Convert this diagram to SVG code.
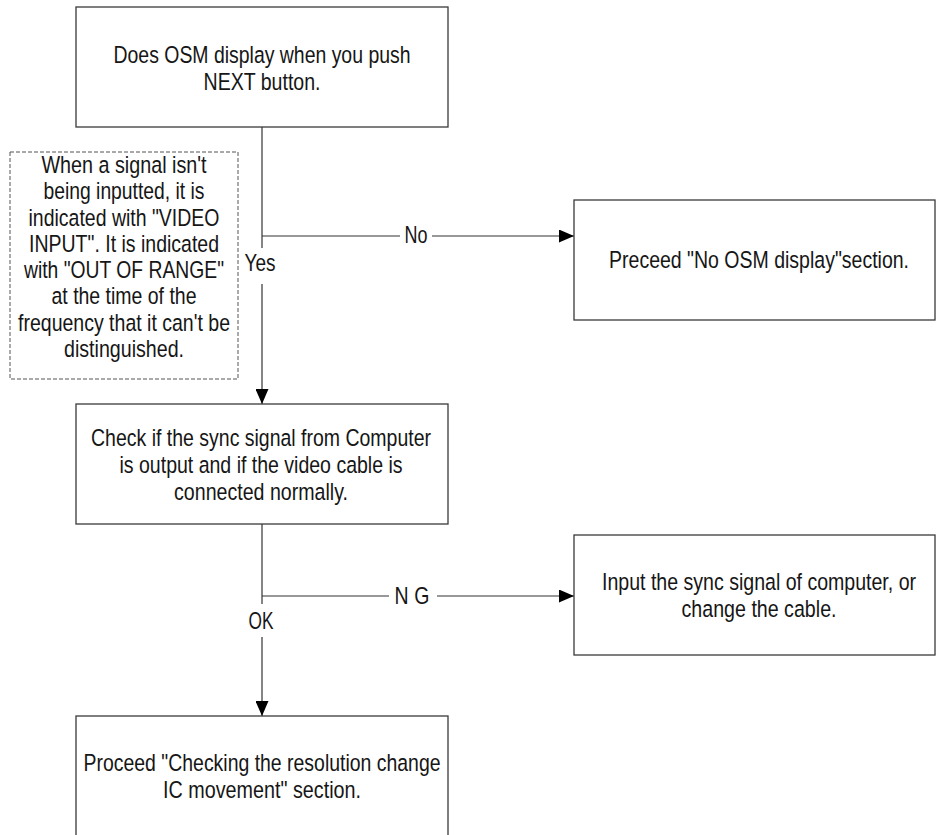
<svg xmlns="http://www.w3.org/2000/svg" width="936" height="835" viewBox="0 0 936 835">
  <style>
    .box{fill:#fff;stroke:#3a3a3a;stroke-width:1.3}
    .note{fill:#fff;stroke:#555;stroke-width:1;stroke-dasharray:4 2}
    .t{font-family:"Liberation Sans",Arial,sans-serif;font-size:23.5px;fill:#161616;text-anchor:middle}
    .wire{stroke:#333;stroke-width:1.2;fill:none}
  </style>
  <defs>
    <marker id="arrow" markerUnits="userSpaceOnUse" viewBox="0 0 15 13" refX="15" refY="6.5" markerWidth="15" markerHeight="13" orient="auto">
      <path d="M0,0 L15,6.5 L0,13 Z" fill="#000"/>
    </marker>
  </defs>

  <rect x="0" y="0" width="936" height="835" fill="#fff"/>

  <!-- Labels use a condensed face: each text group is squeezed horizontally
       by 0.83, so x and textLength inside are in the squeezed units. -->

  <!-- connectors -->
  <g id="connectors">
    <!-- main trunk: question -> check -->
    <path class="wire" d="M262,127 V248"/>
    <path class="wire" d="M262,284 V404" marker-end="url(#arrow)"/>
    <!-- No branch -->
    <path class="wire" d="M262,236 H400"/>
    <path class="wire" d="M432,236 H574" marker-end="url(#arrow)"/>
    <!-- trunk: check -> resolution -->
    <path class="wire" d="M262,524 V604"/>
    <path class="wire" d="M262,637 V716" marker-end="url(#arrow)"/>
    <!-- NG branch -->
    <path class="wire" d="M262,596 H389"/>
    <path class="wire" d="M437,596 H574" marker-end="url(#arrow)"/>

    <g transform="scale(0.83 1)">
      <text class="t" x="501.2" y="243" textLength="27.7" lengthAdjust="spacingAndGlyphs">No</text>
      <text class="t" x="313.3" y="271" textLength="37.3" lengthAdjust="spacingAndGlyphs">Yes</text>
      <text class="t" x="496.4" y="604" textLength="42" lengthAdjust="spacing">NG</text>
      <text class="t" x="314.5" y="629" textLength="30.1" lengthAdjust="spacingAndGlyphs">OK</text>
    </g>
  </g>

  <g id="q-osm">
    <rect class="box" x="76" y="7" width="372" height="120"/>
    <g transform="scale(0.83 1)">
      <text class="t" x="315.7" y="63" textLength="357.8" lengthAdjust="spacingAndGlyphs">Does OSM display when you push</text>
      <text class="t" x="315.7" y="90" textLength="141" lengthAdjust="spacingAndGlyphs">NEXT button.</text>
    </g>
  </g>

  <g id="note-signal">
    <rect class="note" x="10" y="152" width="228" height="227"/>
    <g transform="scale(0.83 1)">
      <text class="t" x="149.4" y="173" textLength="198.8" lengthAdjust="spacingAndGlyphs">When a signal isn't</text>
      <text class="t" x="149.4" y="199.3" textLength="194" lengthAdjust="spacingAndGlyphs">being inputted, it is</text>
      <text class="t" x="149.4" y="225.6" textLength="230.1" lengthAdjust="spacingAndGlyphs">indicated with "VIDEO</text>
      <text class="t" x="149.4" y="251.9" textLength="228.9" lengthAdjust="spacingAndGlyphs">INPUT". It is indicated</text>
      <text class="t" x="149.4" y="278.2" textLength="241" lengthAdjust="spacingAndGlyphs">with "OUT OF RANGE"</text>
      <text class="t" x="149.4" y="304.5" textLength="174.7" lengthAdjust="spacingAndGlyphs">at the time of the</text>
      <text class="t" x="149.4" y="330.8" textLength="255.4" lengthAdjust="spacingAndGlyphs">frequency that it can't be</text>
      <text class="t" x="149.4" y="357.1" textLength="144.6" lengthAdjust="spacingAndGlyphs">distinguished.</text>
    </g>
  </g>

  <g id="no-osm">
    <rect class="box" x="574" y="200" width="361" height="120"/>
    <g transform="scale(0.83 1)">
      <text class="t" x="914.5" y="268" textLength="361.4" lengthAdjust="spacingAndGlyphs">Preceed "No OSM display"section.</text>
    </g>
  </g>

  <g id="check-sync">
    <rect class="box" x="76" y="404" width="372" height="120"/>
    <g transform="scale(0.83 1)">
      <text class="t" x="314.5" y="446" textLength="409.6" lengthAdjust="spacingAndGlyphs">Check if the sync signal from Computer</text>
      <text class="t" x="314.5" y="473" textLength="341" lengthAdjust="spacingAndGlyphs">is output and if the video cable is</text>
      <text class="t" x="314.5" y="500" textLength="209.6" lengthAdjust="spacingAndGlyphs">connected normally.</text>
    </g>
  </g>

  <g id="fix-sync">
    <rect class="box" x="574" y="535" width="361" height="120"/>
    <g transform="scale(0.83 1)">
      <text class="t" x="914.5" y="590" textLength="378.3" lengthAdjust="spacingAndGlyphs">Input the sync signal of computer, or</text>
      <text class="t" x="914.5" y="617" textLength="186.7" lengthAdjust="spacingAndGlyphs">change the cable.</text>
    </g>
  </g>

  <g id="resolution">
    <rect class="box" x="76" y="716" width="372" height="130"/>
    <g transform="scale(0.83 1)">
      <text class="t" x="315.7" y="771" textLength="430.1" lengthAdjust="spacingAndGlyphs">Proceed "Checking the resolution change</text>
      <text class="t" x="315.7" y="798" textLength="238.6" lengthAdjust="spacingAndGlyphs">IC movement" section.</text>
    </g>
  </g>
</svg>
